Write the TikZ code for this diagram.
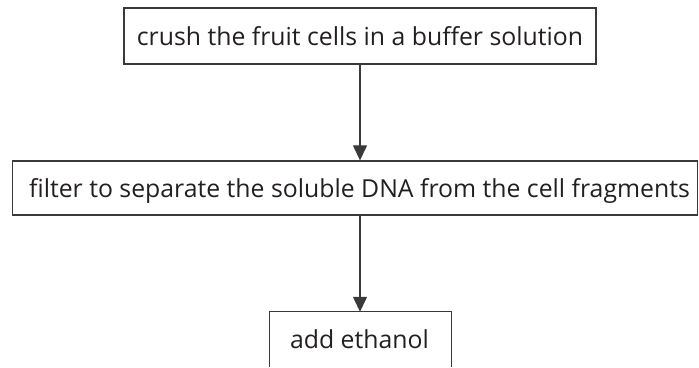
\documentclass[tikz,border=0pt]{standalone}
\usepackage{fontspec}
\setmainfont{Open Sans}
\usetikzlibrary{arrows.meta}
\definecolor{ln}{HTML}{3A3A3A}
\definecolor{tx}{HTML}{231F20}
\begin{document}
\begin{tikzpicture}[x=1pt,y=-1pt,
  frame/.style={draw=ln, line width=1.3pt, inner sep=0pt},
  txt/.style={inner sep=0pt, text height=18pt, text depth=0pt,
    font=\fontsize{24.8}{28}\selectfont, text=tx},
  arr/.style={draw=ln, line width=1.2pt, -{Triangle[width=14pt,length=15pt]}}]
\useasboundingbox (0,0) rectangle (699,367);
% top
\node[frame, minimum width=472pt, minimum height=56pt] (af) at (360,36) {};
\node[txt] (a) at (360,36) {crush the fruit cells in a buffer solution};
% middle
\node[frame, minimum width=685pt, minimum height=54pt] (bf) at (355.2,188) {};
\node[txt] (b) at (359.5,188) {filter to separate the soluble DNA from the cell fragments};
% bottom (cut off by the lower edge)
\node[inner sep=0pt, minimum width=181pt, minimum height=55pt] (cf) at (360.5,339.5) {};
\node[txt] (c) at (359.4,339.5) {add ethanol};
\draw[draw=ln, line width=1.3pt] (cf.south west) |- (cf.north east) -- (cf.south east);
% arrows
\draw[arr] (af.south) -- (af.south |- bf.north);
\draw[arr] (af.south |- bf.south) -- (af.south |- cf.north);
\end{tikzpicture}
\end{document}
